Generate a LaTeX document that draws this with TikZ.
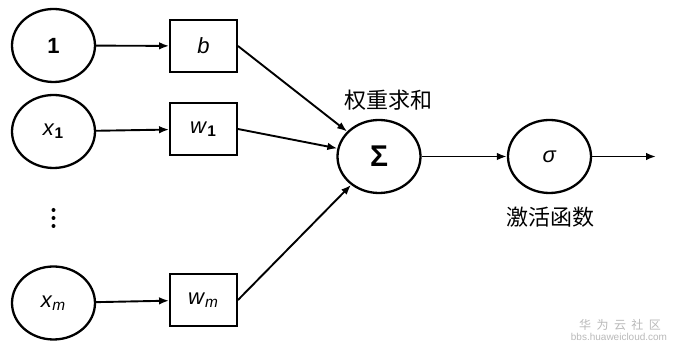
\documentclass[tikz,border=0pt]{standalone}
\usepackage{fontspec}
\setmainfont{Liberation Sans}
\newfontfamily\cjk{Noto Sans CJK SC}
\newfontfamily\cjkwide[LetterSpace=45]{Noto Sans CJK SC}
\usepackage{tikz}
\usetikzlibrary{arrows.meta, positioning, shapes.geometric}

\begin{document}
\begin{tikzpicture}[
  x=0.5pt, y=-0.5pt,
  arrow/.style={-{Latex[length=5pt, width=3.8pt]}, line width=0.95pt},
  unit/.style={draw, ellipse, line width=1.15pt, minimum width=41.5pt, minimum height=36.5pt, inner sep=0pt, font=\fontsize{11}{13}\selectfont},
  weight/.style={draw, rectangle, line width=0.95pt, minimum width=33.5pt, minimum height=26pt, inner sep=0pt, font=\fontsize{11}{13}\selectfont},
  lbl/.style={font=\cjk\fontsize{11}{13}\selectfont, align=center}
]
  \useasboundingbox (0,0) rectangle (675,351);

  % Inputs
  \node[unit, font=\fontsize{11}{13}\selectfont\bfseries] (in1) at (53.5, 45.5) {1};
  \node[unit] (inx1) at (53.5, 131.5) {\textit{x}\textsubscript{\textbf{1}}};
  \foreach \y in {210, 218, 226}
    \fill (53.5, \y) circle (1pt);
  \node[unit] (inxm) at (53.5, 303) {\textit{x}\textsubscript{\textit{m}}};

  % Weights
  \node[weight] (wb) at (203.5, 46) {\textit{b}};
  \node[weight] (w1) at (203.5, 129) {\textit{w}\textsubscript{\textbf{1}}};
  \node[weight] (wm) at (203.5, 300) {\textit{w}\textsubscript{\textit{m}}};

  \draw[arrow] (in1) -- (wb);
  \draw[arrow] (inx1) -- (w1);
  \draw[arrow] (inxm) -- (wm);

  % Sum and activation
  \node[unit, font=\fontsize{15}{17}\selectfont\bfseries] (sum) at (379, 156.5) {Σ};
  \node[unit] (act) at (549.5, 156.5) {\textit{σ}};
  \coordinate (out) at (656, 156.5);

  \draw[arrow] (wb.east) -- (sum);
  \draw[arrow] (w1.east) -- (sum);
  \draw[arrow] (wm.east) -- (sum);
  \draw[arrow] (sum) -- (act);
  \draw[arrow] (act) -- (out);

  \node[lbl] (sumlbl) at (388, 100) {权重求和};
  \node[lbl] (actlbl) at (550, 217) {激活函数};

  % Watermark
  \node[font=\cjkwide\fontsize{6}{7}\selectfont, text=gray!55] (wm1) at (620, 325) {华为云社区};
  \node[font=\fontsize{5}{6}\selectfont, text=gray!55] (wm2) at (619, 337) {bbs.huaweicloud.com};

\end{tikzpicture}
\end{document}
